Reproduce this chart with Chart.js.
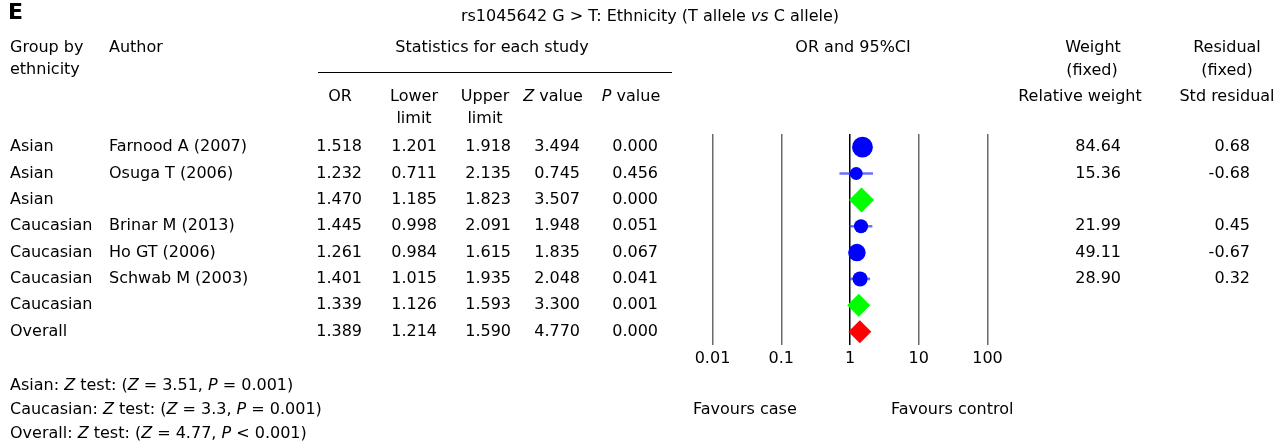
<!DOCTYPE html>
<html lang="en">
<head>
<meta charset="UTF-8">
<title>rs1045642 G > T: Ethnicity</title>
<script src="https://cdn.jsdelivr.net/npm/chart.js"></script>
<style>
  html, body { margin: 0; padding: 0; background: #fff; }
  canvas { display: block; }
</style>
</head>
<body>
<canvas id="forest" width="1285" height="446"></canvas>
<script>
// table rows, top to bottom
const groups = ['Asian', 'Asian', 'Asian', 'Caucasian', 'Caucasian', 'Caucasian', 'Caucasian', 'Overall'];
const authors = ['Farnood A (2007)', 'Osuga T (2006)', '', 'Brinar M (2013)', 'Ho GT (2006)', 'Schwab M (2003)', '', ''];
const rowTypes = ['study', 'study', 'subtotal', 'study', 'study', 'study', 'subtotal', 'overall'];
const oddsRatio = [1.518, 1.232, 1.470, 1.445, 1.261, 1.401, 1.339, 1.389];
const lowerLimit = [1.201, 0.711, 1.185, 0.998, 0.984, 1.015, 1.126, 1.214];
const upperLimit = [1.918, 2.135, 1.823, 2.091, 1.615, 1.935, 1.593, 1.590];
const zValues = [3.494, 0.745, 3.507, 1.948, 1.835, 2.048, 3.300, 4.770];
const pValues = ['0.000', '0.456', '0.000', '0.051', '0.067', '0.041', '0.001', '0.000'];
const relWeight = [84.64, 15.36, null, 21.99, 49.11, 28.90, null, null];
const stdResidual = [0.68, -0.68, null, 0.45, -0.67, 0.32, null, null];
const xTicks = [0.01, 0.1, 1, 10, 100];

// tests under the table
const testGroups = ['Asian', 'Caucasian', 'Overall'];
const testZ = ['3.51', '3.3', '4.77'];
const testP = ['= 0.001', '= 0.001', '< 0.001'];

const rowLabels = groups.map((g, i) => g + ' ' + authors[i]);
const FONT = '"DejaVu Sans", Verdana, sans-serif';
const SIZE = 16;

// write a line made of plain / italic pieces
function pieces(ctx, parts, x, y, align) {
    let total = 0;
    parts.forEach(([t, it]) => {
        ctx.font = (it ? 'italic ' : '') + SIZE + 'px ' + FONT;
        total += ctx.measureText(t).width;
    });
    let cx = align === 'center' ? x - total / 2 : x;
    ctx.textAlign = 'left';
    parts.forEach(([t, it]) => {
        ctx.font = (it ? 'italic ' : '') + SIZE + 'px ' + FONT;
        ctx.fillText(t, cx, y);
        cx += ctx.measureText(t).width;
    });
}

function txt(ctx, t, x, y, align) {
    ctx.font = SIZE + 'px ' + FONT;
    ctx.textAlign = align || 'left';
    ctx.fillText(t, x, y);
}

const tablePlugin = {
    id: 'tableText',
    afterDraw(chart) {
        const ctx = chart.ctx;
        const yScale = chart.scales.y;
        ctx.save();
        ctx.fillStyle = '#000';
        ctx.textBaseline = 'middle';

        // panel letter and title
        ctx.font = 'bold 22px ' + FONT;
        ctx.textAlign = 'left';
        ctx.fillText('E', 8, 13);
        pieces(ctx, [['rs1045642 G > T: Ethnicity (T allele ', false], ['vs', true], [' C allele)', false]], 650, 17, 'center');

        // headers
        txt(ctx, 'Group by', 10, 48);
        txt(ctx, 'ethnicity', 10, 70);
        txt(ctx, 'Author', 109, 48);
        txt(ctx, 'Statistics for each study', 492, 48, 'center');
        ctx.strokeStyle = '#000';
        ctx.lineWidth = 1;
        ctx.beginPath();
        ctx.moveTo(318, 72.5);
        ctx.lineTo(672, 72.5);
        ctx.stroke();
        txt(ctx, 'OR', 340, 97, 'center');
        txt(ctx, 'Lower', 414, 97, 'center');
        txt(ctx, 'limit', 414, 119, 'center');
        txt(ctx, 'Upper', 485, 97, 'center');
        txt(ctx, 'limit', 485, 119, 'center');
        pieces(ctx, [['Z', true], [' value', false]], 553, 97, 'center');
        pieces(ctx, [['P', true], [' value', false]], 631, 97, 'center');
        txt(ctx, 'OR and 95%CI', 853, 48, 'center');
        txt(ctx, 'Weight', 1093, 48, 'center');
        txt(ctx, '(fixed)', 1092, 71, 'center');
        txt(ctx, 'Relative weight', 1080, 97, 'center');
        txt(ctx, 'Residual', 1227, 48, 'center');
        txt(ctx, '(fixed)', 1227, 71, 'center');
        txt(ctx, 'Std residual', 1227, 97, 'center');

        // rows
        groups.forEach((g, i) => {
            const y = yScale.getPixelForValue(i);
            txt(ctx, g, 10, y);
            txt(ctx, authors[i], 109, y);
            txt(ctx, oddsRatio[i].toFixed(3), 362, y, 'right');
            txt(ctx, lowerLimit[i].toFixed(3), 437, y, 'right');
            txt(ctx, upperLimit[i].toFixed(3), 511, y, 'right');
            txt(ctx, zValues[i].toFixed(3), 580, y, 'right');
            txt(ctx, pValues[i], 658, y, 'right');
            if (relWeight[i] !== null) txt(ctx, relWeight[i].toFixed(2), 1121, y, 'right');
            if (stdResidual[i] !== null) txt(ctx, stdResidual[i].toFixed(2), 1250, y, 'right');
        });

        // tests
        testGroups.forEach((g, i) => {
            pieces(ctx, [[g + ': ', false], ['Z', true], [' test: (', false], ['Z', true],
                [' = ' + testZ[i] + ', ', false], ['P', true], [' ' + testP[i] + ')', false]], 10, 386 + i * 24);
        });
        txt(ctx, 'Favours case', 693, 410);
        txt(ctx, 'Favours control', 891, 410);
        ctx.restore();
    }
};

const isStudy = i => rowTypes[i] === 'study';

new Chart(document.getElementById('forest'), {
    type: 'bar',
    data: {
        labels: rowLabels,
        datasets: [
            {
                // confidence interval whiskers
                type: 'bar',
                data: rowLabels.map((r, i) => isStudy(i) ? [lowerLimit[i], upperLimit[i]] : null),
                backgroundColor: 'rgba(60, 60, 255, 0.75)',
                barThickness: 2,
                order: 3
            },
            {
                // study estimates
                type: 'scatter',
                data: rowLabels.map((r, i) => ({ x: oddsRatio[i], y: r, w: relWeight[i] })).filter((p, i) => isStudy(i)),
                backgroundColor: '#0000ff',
                borderWidth: 0,
                pointRadius: c => 3.5 + 0.75 * Math.sqrt(c.raw.w),
                order: 2
            },
            {
                // pooled estimates
                type: 'scatter',
                data: rowLabels.map((r, i) => ({ x: oddsRatio[i], y: r, t: rowTypes[i] })).filter((p, i) => !isStudy(i)),
                pointStyle: 'rectRot',
                backgroundColor: c => c.raw.t === 'overall' ? '#ff0000' : '#00ff00',
                borderWidth: 0,
                pointRadius: c => c.dataIndex === 0 ? 12.5 : 11.5,
                order: 1
            }
        ]
    },
    options: {
        indexAxis: 'y',
        responsive: false,
        animation: false,
        layout: { padding: { left: 712.5, right: 297.5, top: 134, bottom: 74 } },
        plugins: { legend: { display: false }, tooltip: { enabled: false } },
        scales: {
            x: {
                type: 'logarithmic',
                min: 0.01,
                max: 100,
                afterBuildTicks: scale => { scale.ticks = xTicks.map(v => ({ value: v })); },
                ticks: {
                    color: '#000',
                    padding: 4,
                    maxRotation: 0,
                    autoSkip: false,
                    font: { family: FONT, size: SIZE },
                    callback: v => String(v)
                },
                grid: {
                    drawTicks: false,
                    color: c => c.tick && c.tick.value === 1 ? '#000' : '#6a6a6a',
                    lineWidth: 1.5
                },
                border: { display: false }
            },
            y: {
                type: 'category',
                display: false
            }
        }
    },
    plugins: [tablePlugin]
});
</script>
</body>
</html>
